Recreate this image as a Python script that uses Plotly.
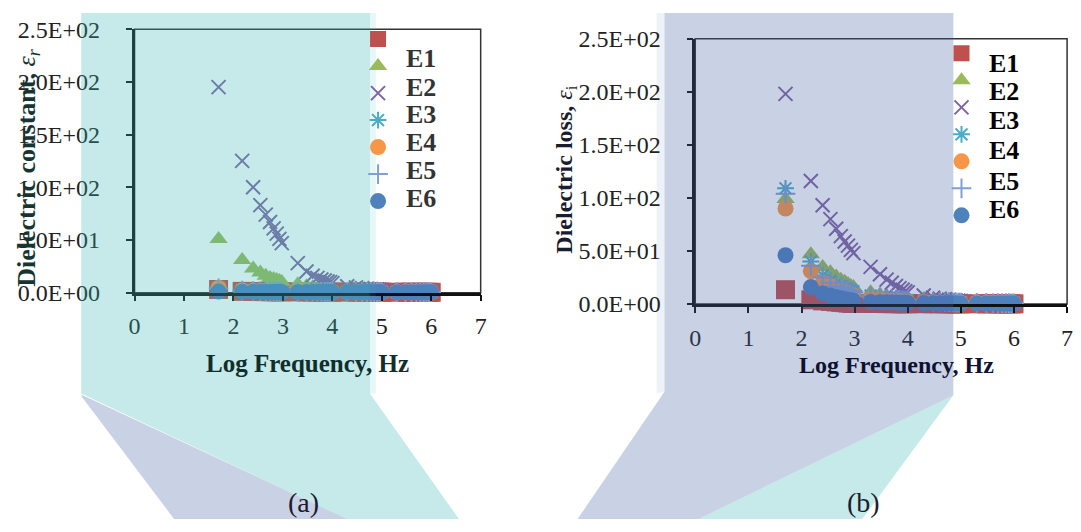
import numpy as np
import plotly.graph_objects as go

W, H = 1081, 532

# ---------------- data ----------------
freq_hz = [50,
           150, 250, 350, 450, 550, 650, 750, 850, 950,
           2000, 3000, 4000, 5000, 6000, 7000, 8000, 9000, 10000,
           20000, 30000, 40000, 50000, 60000, 70000, 80000, 90000, 100000,
           200000, 300000, 400000, 500000, 600000, 700000, 800000, 900000, 1000000]
log_freq = list(np.log10(freq_hz))

series_names = ["E1", "E2", "E3", "E4", "E5", "E5+", "E6"]
x_ticks = [0, 1, 2, 3, 4, 5, 6, 7]
y_ticks = [0, 50, 100, 150, 200, 250]
y_tick_labels = ["0.0E+00", "5.0E+01", "1.0E+02", "1.5E+02", "2.0E+02", "2.5E+02"]
legend_labels = ["E1", "E2", "E3", "E4", "E5", "E6"]

# (a) dielectric constant
er_E1 = [3, 1.2, 1.1, 1.0, 1.0, 0.9, 0.9, 0.9, 0.8, 0.8,
         0.7, 0.7, 0.6, 0.6, 0.6, 0.6, 0.5, 0.5, 0.5,
         0.5, 0.5, 0.5, 0.5, 0.4, 0.4, 0.4, 0.4, 0.4,
         0.4, 0.4, 0.4, 0.3, 0.3, 0.3, 0.3, 0.3, 0.3]
er_E2 = [51, 31, 23, 19, 16, 14, 13, 12, 11, 10,
         8, 6, 5, 4.5, 4, 3.6, 3.3, 3.0, 2.8,
         2.4, 2.2, 2.0, 1.9, 1.8, 1.7, 1.7, 1.6, 1.6,
         1.5, 1.5, 1.4, 1.4, 1.3, 1.3, 1.3, 1.2, 1.2]
er_E3 = [195, 125, 100, 83, 74, 67, 61, 56, 51, 47,
         28, 20, 16, 14, 12.5, 11.5, 10.5, 10, 9,
         6, 5, 4.3, 3.8, 3.4, 3.1, 2.9, 2.7, 2.5,
         2.0, 1.8, 1.7, 1.6, 1.5, 1.5, 1.4, 1.4, 1.3]
er_E4 = [4, 2, 1.8, 1.6, 1.5, 1.4, 1.3, 1.2, 1.2, 1.1,
         1.0, 0.9, 0.9, 0.9, 0.8, 0.8, 0.8, 0.8, 0.8,
         0.7, 0.7, 0.7, 0.7, 0.7, 0.6, 0.6, 0.6, 0.6,
         0.6, 0.6, 0.6, 0.5, 0.5, 0.5, 0.5, 0.5, 0.5]
er_E5 = [4.5, 2, 1.7, 1.5, 1.4, 1.3, 1.2, 1.2, 1.1, 1.1,
         1.0, 0.9, 0.9, 0.8, 0.8, 0.8, 0.8, 0.7, 0.7,
         0.7, 0.7, 0.6, 0.6, 0.6, 0.6, 0.6, 0.6, 0.6,
         0.5, 0.5, 0.5, 0.5, 0.5, 0.5, 0.5, 0.5, 0.5]
er_E5p = [4, 1.9, 1.6, 1.4, 1.3, 1.2, 1.2, 1.1, 1.1, 1.0,
          0.9, 0.9, 0.8, 0.8, 0.8, 0.7, 0.7, 0.7, 0.7,
          0.6, 0.6, 0.6, 0.6, 0.6, 0.6, 0.5, 0.5, 0.5,
          0.5, 0.5, 0.5, 0.5, 0.5, 0.4, 0.4, 0.4, 0.4]
er_E6 = [1, 0.9, 0.8, 0.8, 0.7, 0.7, 0.7, 0.7, 0.6, 0.6,
         0.6, 0.6, 0.6, 0.5, 0.5, 0.5, 0.5, 0.5, 0.5,
         0.5, 0.5, 0.5, 0.5, 0.5, 0.4, 0.4, 0.4, 0.4,
         0.4, 0.4, 0.4, 0.4, 0.4, 0.4, 0.4, 0.4, 0.4]

# (b) dielectric loss
ei_E1 = [13.5, 4, 3, 2.5, 2, 1.6, 1.3, 1.0, 0.8, 0.6,
         0.5, 0.5, 0.4, 0.4, 0.4, 0.4, 0.3, 0.3, 0.3,
         0.3, 0.3, 0.3, 0.3, 0.3, 0.2, 0.2, 0.2, 0.2,
         0.2, 0.2, 0.2, 0.2, 0.2, 0.2, 0.2, 0.2, 0.2]
ei_E2 = [99, 47, 35, 30, 26, 23, 21, 19, 17, 16,
         11, 9, 7.5, 6.5, 6, 5.5, 5, 4.6, 4.3,
         3.4, 3.0, 2.7, 2.5, 2.3, 2.2, 2.1, 2.0, 1.9,
         1.6, 1.5, 1.4, 1.3, 1.3, 1.2, 1.2, 1.1, 1.1]
ei_E3 = [198, 116, 93, 80, 71, 64, 59, 55, 51, 48,
         35, 28, 23, 20, 17, 15, 13.5, 12, 11,
         8, 6, 5, 4.5, 4, 3.7, 3.4, 3.2, 3.0,
         2.4, 2.1, 1.9, 1.8, 1.7, 1.6, 1.5, 1.5, 1.4]
ei_E4 = [109, 40, 27, 22, 19, 17, 15, 14, 13, 12,
         8, 7, 6, 5.5, 5, 4.5, 4.2, 4, 3.7,
         3, 2.6, 2.3, 2.1, 2.0, 1.9, 1.8, 1.7, 1.6,
         1.4, 1.3, 1.2, 1.1, 1.1, 1.0, 1.0, 1.0, 0.9]
ei_E5 = [90, 31, 20, 17, 14, 12, 11, 10, 9, 8,
         5, 4.2, 3.6, 3.2, 3.0, 2.8, 2.6, 2.4, 2.3,
         1.9, 1.7, 1.5, 1.4, 1.3, 1.3, 1.2, 1.2, 1.1,
         1.0, 0.9, 0.9, 0.8, 0.8, 0.8, 0.8, 0.7, 0.7]
ei_E5p = [104, 36, 25, 20, 17, 15, 14, 13, 12, 11,
          7, 6, 5, 4.5, 4.2, 4, 3.7, 3.4, 3.2,
          2.6, 2.3, 2.1, 1.9, 1.8, 1.7, 1.6, 1.5, 1.5,
          1.2, 1.1, 1.0, 1.0, 0.9, 0.9, 0.9, 0.8, 0.8]
ei_E6 = [46, 16, 10, 8, 6.5, 5.5, 4.5, 4, 3.5, 3,
         2, 1.8, 1.6, 1.5, 1.4, 1.3, 1.2, 1.2, 1.1,
         0.9, 0.8, 0.8, 0.7, 0.7, 0.7, 0.6, 0.6, 0.6,
         0.5, 0.5, 0.5, 0.5, 0.5, 0.5, 0.4, 0.4, 0.4]

er_series = [er_E1, er_E2, er_E3, er_E4, er_E5, er_E5p, er_E6]
ei_series = [ei_E1, ei_E2, ei_E3, ei_E4, ei_E5, ei_E5p, ei_E6]

# ---------------- styles ----------------
colors = ["#c0504d", "#9bbb59", "#8064a2", "#4bacc6", "#f79646", "#7f9fd6", "#4f81bd"]
symbols = ["square", "triangle-up", "x-thin", "asterisk-open", "circle", "cross-thin-open", "circle"]
sizes = [19, 16, 14, 14, 16, 14, 16]
serif = "Liberation Serif"


def px(x):
    return x / W


def py(y):
    return 1 - y / H


fig = go.Figure()

for panel, (series, xa, ya, leg) in enumerate([(er_series, "x", "y", "legend"),
                                               (ei_series, "x2", "y2", "legend2")]):
    for i, vals in enumerate(series):
        fig.add_trace(go.Scatter(
            x=log_freq, y=vals, mode="markers", xaxis=xa, yaxis=ya,
            name="", legend=leg, cliponaxis=False,
            hovertemplate=series_names[i] + ": %{y}<extra></extra>",
            marker=dict(symbol=symbols[i], size=sizes[i], color=colors[i],
                        line=dict(color=colors[i], width=2 if symbols[i] in
                                  ("x-thin", "asterisk-open", "cross-thin-open") else 0)),
        ))

axis_common = dict(
    range=[0, 7], tickvals=x_ticks, ticks="outside", ticklen=6, tickwidth=2,
    tickcolor="#111", showline=True, linewidth=2.5, linecolor="#111",
    showgrid=False, zeroline=False,
    tickfont=dict(family=serif, size=24, color="#222"),
)
yaxis_common = dict(
    range=[0, 250], tickvals=y_ticks, ticktext=y_tick_labels, ticks="outside",
    ticklen=6, tickwidth=2, tickcolor="#111", showline=True, linewidth=2.5,
    linecolor="#111", showgrid=False, zeroline=False,
    tickfont=dict(family=serif, size=24, color="#222"),
)

fig.update_layout(
    width=W, height=H, margin=dict(l=0, r=0, t=0, b=0),
    paper_bgcolor="white", plot_bgcolor="rgba(0,0,0,0)",
    xaxis=dict(domain=[px(130), px(480)], anchor="y", ticklabelstandoff=4, **axis_common),
    yaxis=dict(domain=[py(294), py(17)], anchor="x", ticklabelstandoff=21, **yaxis_common),
    xaxis2=dict(domain=[px(697), px(1073)], anchor="y2", ticklabelstandoff=4, **axis_common),
    yaxis2=dict(domain=[py(306), py(27)], anchor="x2", ticklabelstandoff=21, **yaxis_common),
    legend=dict(x=px(356), y=py(8), xanchor="left", yanchor="top",
                bgcolor="rgba(0,0,0,0)", font=dict(size=18.46, family=serif)),
    legend2=dict(x=px(946), y=py(23), xanchor="left", yanchor="top",
                 bgcolor="rgba(0,0,0,0)", font=dict(size=18.46, family=serif)),
    hovermode="closest",
)

shapes = []
# thin plot frames
for xr, yr in [("x domain", "y domain"), ("x2 domain", "y2 domain")]:
    shapes.append(dict(type="rect", xref=xr, yref=yr, x0=0, x1=1, y0=0, y1=1,
                       line=dict(color="#333", width=1.5), layer="below"))


def poly(points, fill):
    path = "M " + " L ".join(f"{px(a):.5f},{py(b):.5f}" for a, b in points) + " Z"
    return dict(type="path", xref="paper", yref="paper", path=path,
                fillcolor=fill, line=dict(width=0), layer="above")


teal = "rgba(55,183,179,0.29)"
lav = "rgba(69,97,165,0.29)"
teal_faint = "rgba(55,183,179,0.12)"
lav_faint = "rgba(69,97,165,0.09)"

shapes += [
    poly([(76, 0), (368, 0), (368, 400), (458, 532), (345, 532), (76, 400)], teal),
    poly([(368, 0), (374, 0), (374, 400), (368, 400)], teal_faint),
    poly([(76, 401), (345, 532), (170, 532), (77, 404)], lav),
    poly([(666, 0), (958, 0), (958, 402), (700, 532), (578, 532), (666, 398)], lav),
    poly([(658, 0), (666, 0), (666, 398), (658, 400)], lav_faint),
    poly([(958, 402), (866, 532), (700, 532)], teal),
]
fig.update_layout(shapes=shapes)

ann = []


def text(x, y, s, size, color, angle=0):
    ann.append(dict(x=px(x), y=py(y), xref="paper", yref="paper", text=s,
                    showarrow=False, xanchor="center", yanchor="middle",
                    textangle=angle, font=dict(family=serif, size=size, color=color)))


text(22, 163, "<b>Dielectric constant, </b><i>ε<sub>r</sub></i>", 26, "#163532", angle=-90)
text(566, 165, "<b>Dielectric loss, </b><i>ε</i><sub>i</sub>", 24, "#1a1d2e", angle=-90)
text(305, 368, "<b>Log Frequency, Hz</b>", 25, "#0f2e2c")
text(901, 370, "<b>Log Frequency, Hz</b>", 24, "#0e1230")
text(301, 515, "(a)", 28, "#1c1c30")
text(867, 515, "(b)", 28, "#1c1c30")

left_label_y = [48, 78, 107, 136, 166, 195]
right_label_y = [53, 83, 113, 145, 177, 207]
for lbl, yl, yr in zip(legend_labels, left_label_y, right_label_y):
    text(420, yl, f"<b>{lbl}</b>", 26, "#333333")
    text(1009, yr, f"<b>{lbl}</b>", 26, "#000000")

fig.update_layout(annotations=ann)

fig.write_html("out.html")
